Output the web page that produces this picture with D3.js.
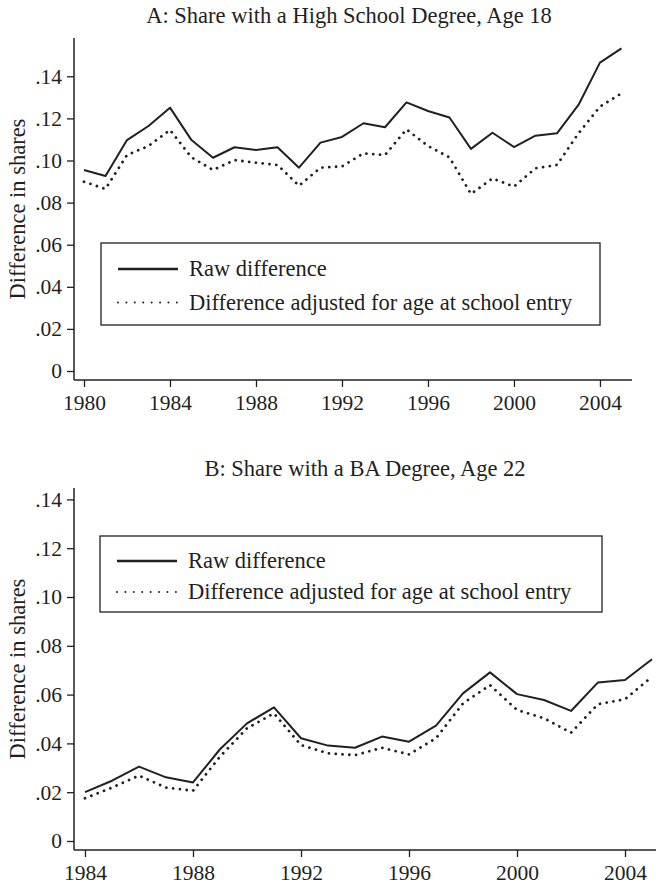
<!DOCTYPE html>
<html>
<head>
<meta charset="utf-8">
<script src="https://cdn.jsdelivr.net/npm/d3@7"></script>
<style>
  body { margin: 0; background: #fff; }
  svg text { font-family: "Liberation Serif", "Times New Roman", serif; fill: #231f20; }
</style>
</head>
<body>
<div id="chart"></div>
<script>
// panel A: high school degree at 18
var hsYears = [1980,1981,1982,1983,1984,1985,1986,1987,1988,1989,1990,1991,1992,
               1993,1994,1995,1996,1997,1998,1999,2000,2001,2002,2003,2004,2005];
var hsRaw = [.0955,.0926,.1097,.1164,.1251,.1097,.1013,.1063,.1050,.1063,.0966,.1085,.1112,
             .1177,.1158,.1276,.1235,.1204,.1055,.1132,.1064,.1118,.1129,.1264,.1465,.1533];
var hsAdj = [.0899,.0865,.1026,.1069,.1145,.1015,.0955,.1002,.0990,.0979,.0880,.0966,.0972,
             .1034,.1026,.1148,.1069,.1015,.0841,.0915,.0876,.0963,.0979,.1129,.1256,.1319];
var hsXTicks = [1980,1984,1988,1992,1996,2000,2004];

// panel B: BA degree at 22
var baYears = [1984,1985,1986,1987,1988,1989,1990,1991,1992,1993,1994,
               1995,1996,1997,1998,1999,2000,2001,2002,2003,2004,2005];
var baRaw = [.0200,.0247,.0305,.0261,.0240,.0376,.0482,.0548,.0421,.0391,.0382,
             .0428,.0407,.0473,.0605,.0691,.0602,.0578,.0533,.0650,.0660,.0745];
var baAdj = [.0175,.0219,.0268,.0219,.0206,.0346,.0462,.0523,.0393,.0359,.0352,
             .0382,.0355,.0421,.0564,.0639,.0537,.0503,.0444,.0561,.0581,.0673];
var baXTicks = [1984,1988,1992,1996,2000,2004];

var yTicks = [0,.02,.04,.06,.08,.10,.12,.14];
var legendLabels = ["Raw difference", "Difference adjusted for age at school entry"];

var width = 656, height = 884;
var ink = "#231f20";

var svg = d3.select("#chart").append("svg")
    .attr("width", width)
    .attr("height", height);

function fmtY(d) {
  return d === 0 ? "0" : d3.format(".2f")(d).replace(/^0/, "");
}

function drawPanel(p) {
  var x = d3.scaleLinear().domain(p.xDomain).range([74, p.xRight]);
  var y = d3.scaleLinear().domain([0, p.yMax]).range([p.zeroY, p.topY]);
  var axisY = p.zeroY + 9;

  var g = svg.append("g");

  // title
  g.append("text")
    .attr("x", p.titleX)
    .attr("y", p.titleY)
    .attr("text-anchor", "middle")
    .style("font-size", "22.5px")
    .text(p.title);

  // y axis
  var ya = g.append("g")
    .attr("transform", "translate(74,0)")
    .call(d3.axisLeft(y).tickValues(yTicks).tickFormat(fmtY).tickSize(7).tickPadding(5));
  ya.select(".domain").remove();

  // x axis
  var xa = g.append("g")
    .attr("transform", "translate(0," + axisY + ")")
    .call(d3.axisBottom(x).tickValues(p.xTicks).tickFormat(d3.format("d")).tickSize(7).tickPadding(7.5));
  xa.select(".domain").remove();

  g.selectAll(".tick line").attr("stroke", ink).attr("stroke-width", 1.3);
  g.selectAll(".tick text")
    .attr("fill", ink)
    .style("font-family", '"Liberation Serif", serif')
    .style("font-size", "21.5px");

  // axis lines
  g.append("line")
    .attr("x1", 74).attr("x2", 74)
    .attr("y1", axisY).attr("y2", p.topY)
    .attr("stroke", ink).attr("stroke-width", 1.5);
  g.append("line")
    .attr("x1", 74).attr("x2", p.xRight)
    .attr("y1", axisY).attr("y2", axisY)
    .attr("stroke", ink).attr("stroke-width", 1.5);

  // y label
  g.append("text")
    .attr("transform", "translate(25," + ((axisY + p.topY) / 2) + ") rotate(-90)")
    .attr("text-anchor", "middle")
    .style("font-size", "22.5px")
    .text("Difference in shares");

  var line = d3.line()
    .x(function (d) { return x(d[0]); })
    .y(function (d) { return y(d[1]); });

  g.append("path")
    .datum(d3.zip(p.years, p.raw))
    .attr("d", line)
    .attr("fill", "none")
    .attr("stroke", ink)
    .attr("stroke-width", 2)
    .attr("stroke-linejoin", "round");

  g.append("path")
    .datum(d3.zip(p.years, p.adj))
    .attr("d", line)
    .attr("fill", "none")
    .attr("stroke", ink)
    .attr("stroke-width", 2.8)
    .attr("stroke-linecap", "round")
    .attr("stroke-dasharray", "0.01 6.8");

  // legend
  var L = p.legend;
  var lg = g.append("g");
  lg.append("rect")
    .attr("x", L.x).attr("y", L.y)
    .attr("width", L.w).attr("height", L.h)
    .attr("fill", "#fff")
    .attr("stroke", ink).attr("stroke-width", 1.3);

  legendLabels.forEach(function (lab, i) {
    var ly = L.y + L.rows[i];
    lg.append("line")
      .attr("x1", L.x + 17).attr("x2", L.x + 77)
      .attr("y1", ly).attr("y2", ly)
      .attr("stroke", ink)
      .attr("stroke-width", i === 0 ? 2.4 : 2)
      .attr("stroke-linecap", i === 0 ? "butt" : "round")
      .attr("stroke-dasharray", i === 0 ? null : "0.01 8.4");
    lg.append("text")
      .attr("x", L.x + 88)
      .attr("y", ly + 7)
      .style("font-size", "22.5px")
      .text(lab);
  });
}

drawPanel({
  title: "A: Share with a High School Degree, Age 18",
  titleX: 349, titleY: 23,
  years: hsYears, raw: hsRaw, adj: hsAdj, xTicks: hsXTicks,
  xDomain: [1979.535, 2005.49], xRight: 632,
  yMax: (371 - 38) / 2105, zeroY: 371, topY: 38,
  legend: { x: 101, y: 243, w: 499, h: 82, rows: [26, 59.5] }
});

drawPanel({
  title: "B: Share with a BA Degree, Age 22",
  titleX: 365, titleY: 476,
  years: baYears, raw: baRaw, adj: baAdj, xTicks: baXTicks,
  xDomain: [1983.593, 2005.148], xRight: 656,
  yMax: (841 - 488) / 2440, zeroY: 841, topY: 488,
  legend: { x: 100, y: 536, w: 502, h: 76, rows: [25, 56] }
});
</script>
</body>
</html>
